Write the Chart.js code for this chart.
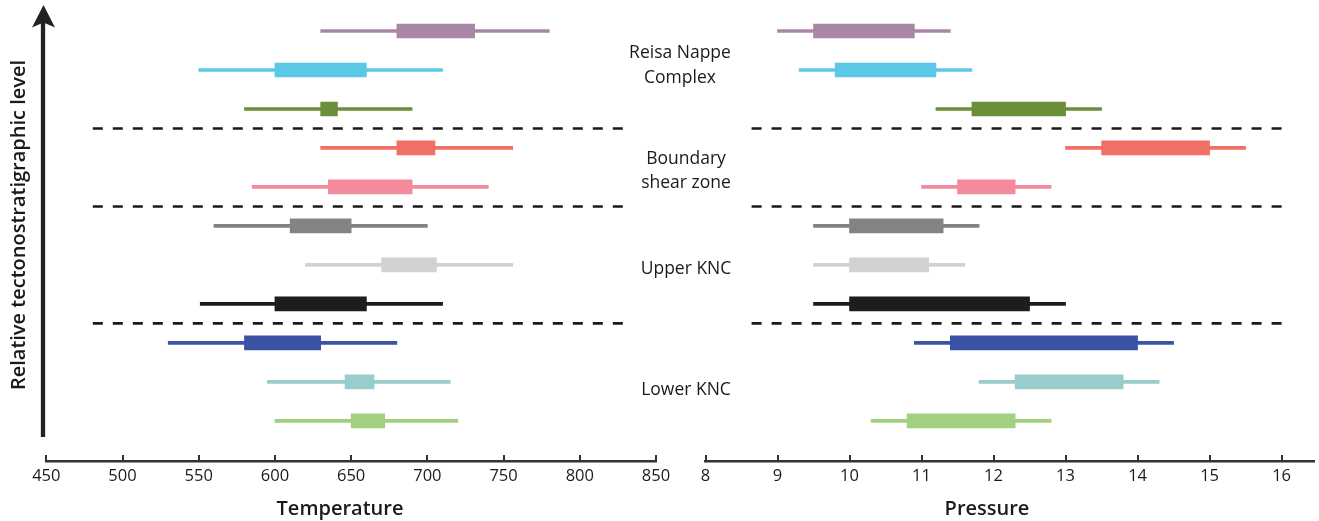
<!DOCTYPE html>
<html>
<head>
<meta charset="utf-8">
<script src="https://cdn.jsdelivr.net/npm/chart.js@4"></script>
<style>
  html, body { margin: 0; padding: 0; background: #fff; }
  body { width: 1319px; height: 521px; position: relative; overflow: hidden; font-family: "Open Sans", sans-serif; color: #1a1a1a; }
  #wrapL { position: absolute; left: 0; top: 0; width: 680px; height: 521px; }
  #wrapR { position: absolute; left: 680px; top: 0; width: 639px; height: 521px; }
  .lbl { position: absolute; transform: translate(-50%, -50%); white-space: nowrap; font-size: 17.5px; text-align: center; line-height: 24.5px; }
  .ttl { position: absolute; transform: translate(-50%, -50%); white-space: nowrap; font-size: 20px; font-weight: 600; }
  #ylab { position: absolute; left: 17px; top: 225px; transform: translate(-50%, -50%) rotate(-90deg); white-space: nowrap; font-size: 20px; font-weight: 600; }
  svg { position: absolute; left: 0; top: 0; }
</style>
</head>
<body>
<div id="wrapL"><canvas id="cL"></canvas></div>
<div id="wrapR"><canvas id="cR"></canvas></div>

<svg width="80" height="460">
  <line x1="43" y1="22" x2="43" y2="437" stroke="#222" stroke-width="4.3"/>
  <polygon points="43.5,5 55,27.5 43.5,22.5 32,27.5" fill="#222"/>
</svg>
<div id="ylab">Relative tectonostratigraphic level</div>

<div class="lbl" style="left:680px; top:63px;">Reisa Nappe<br>Complex</div>
<div class="lbl" style="left:686px; top:168.5px;">Boundary<br>shear zone</div>
<div class="lbl" style="left:686px; top:266.5px;">Upper KNC</div>
<div class="lbl" style="left:686px; top:388px;">Lower KNC</div>

<div class="ttl" style="left:340px; top:507px;">Temperature</div>
<div class="ttl" style="left:987px; top:507px;">Pressure</div>

<script>
// ---- data (rows top to bottom) ----
const rows = [0,1,2,3,4,5,6,7,8,9,10];
const colors = ['#a886a6','#5cc8e8','#6b8e3b','#f07066','#f48b9c','#838384','#d1d2d4','#1d1d1d','#3a53a4','#98cdcc','#a1d17f'];

// Temperature: whisker range and box range
const tempWhiskerLo = [630, 550, 580, 630, 585, 560, 620, 551, 530, 595, 600];
const tempWhiskerHi = [780, 710, 690, 756, 740, 700, 756, 710, 680, 715, 720];
const tempBoxLo     = [680, 600, 630, 680, 635, 610, 670, 600, 580, 646, 650];
const tempBoxHi     = [731, 660, 641, 705, 690, 650, 706, 660, 630, 665, 672];

// Pressure: whisker range and box range
const presWhiskerLo = [9.0, 9.3, 11.2, 13.0, 11.0, 9.5, 9.5, 9.5, 10.9, 11.8, 10.3];
const presWhiskerHi = [11.4, 11.7, 13.5, 15.5, 12.8, 11.8, 11.6, 13.0, 14.5, 14.3, 12.8];
const presBoxLo     = [9.5, 9.8, 11.7, 13.5, 11.5, 10.0, 10.0, 10.0, 11.4, 12.3, 10.8];
const presBoxHi     = [10.9, 11.2, 13.0, 15.0, 12.3, 11.3, 11.1, 12.5, 14.0, 13.8, 12.3];

const tempTicks = [450, 500, 550, 600, 650, 700, 750, 800, 850];
const presTicks = [8, 9, 10, 11, 12, 13, 14, 15, 16];

// separators between groups (between row indices)
const separators = [2.5, 4.5, 7.5];

const AXIS_COLOR = '#333';

function makeChart(id, wLo, wHi, bLo, bHi, ticks, xMin, xMax, sepFrom, sepTo, padL, padR) {
  const dividerPlugin = {
    id: 'dividers',
    afterDatasetsDraw(chart) {
      const {ctx, scales: {x, y}} = chart;
      ctx.save();
      ctx.strokeStyle = '#1a1a1a';
      ctx.lineWidth = 2.6;
      ctx.setLineDash([10, 10]);
      separators.forEach(s => {
        const py = y.getPixelForValue(s);
        ctx.beginPath();
        ctx.moveTo(x.getPixelForValue(sepFrom), py);
        ctx.lineTo(x.getPixelForValue(sepTo), py);
        ctx.stroke();
      });
      ctx.restore();
    },
    afterDraw(chart) {
      const {ctx, scales: {x}, chartArea} = chart;
      ctx.save();
      ctx.strokeStyle = AXIS_COLOR;
      ctx.lineWidth = 2;
      ticks.forEach(t => {
        const px = Math.round(x.getPixelForValue(t));
        ctx.beginPath();
        ctx.moveTo(px, chartArea.bottom);
        ctx.lineTo(px, chartArea.bottom - 6);
        ctx.stroke();
      });
      ctx.restore();
    }
  };

  return new Chart(document.getElementById(id), {
    type: 'bar',
    data: {
      datasets: [
        {
          label: 'box',
          data: rows.map(i => ({x: [bLo[i], bHi[i]], y: i})),
          backgroundColor: colors,
          barThickness: 14,
          borderWidth: 0,
          borderSkipped: false
        },
        {
          label: 'range',
          data: rows.map(i => ({x: [wLo[i], wHi[i]], y: i})),
          backgroundColor: colors,
          barThickness: 3,
          borderWidth: 0,
          borderSkipped: false
        }
      ]
    },
    options: {
      indexAxis: 'y',
      responsive: true,
      maintainAspectRatio: false,
      animation: false,
      layout: { padding: { left: padL, right: padR, top: 11.5, bottom: 0 } },
      plugins: { legend: { display: false }, tooltip: { enabled: false } },
      datasets: { bar: { grouped: false } },
      scales: {
        y: {
          type: 'linear',
          reverse: true,
          offset: false,
          grid: { offset: false },
          min: -0.5,
          max: 11.03,
          display: false
        },
        x: {
          type: 'linear',
          min: xMin,
          max: xMax,
          afterBuildTicks(scale) { scale.ticks = ticks.map(v => ({value: v})); },
          afterFit(scale) { scale.height = 60; },
          grid: { display: false, drawTicks: false },
          border: { display: true, color: AXIS_COLOR, width: 2.5 },
          ticks: {
            color: '#1a1a1a',
            padding: 5,
            maxRotation: 0,
            autoSkip: false,
            font: { family: 'Open Sans', size: 16.5 },
            callback: v => String(v)
          }
        }
      }
    },
    plugins: [dividerPlugin]
  });
}

makeChart('cL', tempWhiskerLo, tempWhiskerHi, tempBoxLo, tempBoxHi, tempTicks, 450, 850, 480.5, 832, 46.3, 24);
makeChart('cR', presWhiskerLo, presWhiskerHi, presBoxLo, presBoxHi, presTicks, 8, 16.45, 8.64, 16.09, 25.5, 5);
</script>
</body>
</html>
